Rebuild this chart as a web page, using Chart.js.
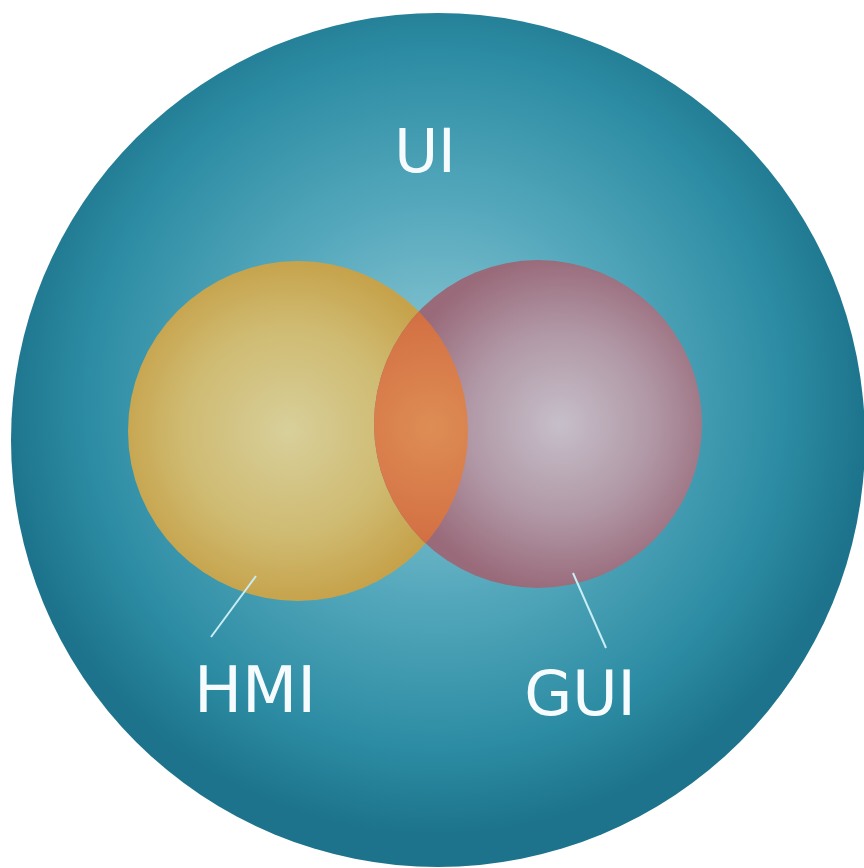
<!DOCTYPE html>
<html>
<head>
<meta charset="utf-8">
<script src="https://cdn.jsdelivr.net/npm/chart.js@4/dist/chart.umd.min.js"></script>
<style>
  html, body { margin: 0; padding: 0; background: #ffffff; }
  #wrap { width: 864px; height: 868px; }
</style>
</head>
<body>
<div id="wrap"><canvas id="c" width="864" height="868"></canvas></div>
<script>
// ---- data ----
const sets = ['UI', 'HMI', 'GUI'];
const centerX = [438, 298, 538];
const centerY = [440, 431, 424];
const radius = [427, 170, 164];
const labelX = [425, 255, 580];
const labelY = [172, 712, 715];
const hmiLeaderX = [256, 211];
const hmiLeaderY = [576, 637];
const guiLeaderX = [573, 606];
const guiLeaderY = [573, 648];

// ---- styles ----
const gradStops = [
  [[0, '#95ccd7'], [0.45, '#55a8bc'], [0.8, '#2c8ca3'], [1, '#1c738b']],
  [[0, '#d8cf9a'], [0.6, '#cfbb72'], [1, '#c6a24a']],
  [[0, '#c6bfca'], [0.55, '#b198a6'], [1, '#996a7a']]
];
const gradOffset = [[-3, -40], [-10, 0], [22, 0]];
const overlapStops = [[0, '#de8d55'], [0.6, '#d47345'], [1, '#c85c3a']];

function radial(ctx2d, cx, cy, r, stops) {
  const g = ctx2d.createRadialGradient(cx, cy, 0, cx, cy, r);
  stops.forEach(s => g.addColorStop(s[0], s[1]));
  return g;
}

function bubbleDataset(i, order) {
  return {
    type: 'bubble',
    label: sets[i],
    data: [{ x: centerX[i], y: centerY[i], r: radius[i] }],
    borderWidth: 0,
    hoverBorderWidth: 0,
    hoverRadius: 0,
    order: order,
    clip: false,
    backgroundColor: (c) => {
      const chart = c.chart;
      if (!chart.chartArea || !chart.scales.x) return gradStops[i][1][1];
      const px = chart.scales.x.getPixelForValue(centerX[i]);
      const py = chart.scales.y.getPixelForValue(centerY[i]);
      return radial(chart.ctx, px + gradOffset[i][0], py + gradOffset[i][1], radius[i] * 1.02, gradStops[i]);
    }
  };
}

function leaderDataset(xs, ys, name) {
  return {
    type: 'line',
    label: name,
    data: xs.map((x, k) => ({ x: x, y: ys[k] })),
    borderColor: '#c9eef5',
    borderWidth: 2,
    pointRadius: 0,
    fill: false,
    order: 0,
    clip: false
  };
}

const overlapPlugin = {
  id: 'overlap',
  afterDatasetDraw(chart, args) {
    if (args.index !== 2) return;
    const ctx = chart.ctx;
    const sx = chart.scales.x, sy = chart.scales.y;
    const hx = sx.getPixelForValue(centerX[1]), hy = sy.getPixelForValue(centerY[1]);
    const gx = sx.getPixelForValue(centerX[2]), gy = sy.getPixelForValue(centerY[2]);
    ctx.save();
    ctx.beginPath();
    ctx.arc(hx, hy, radius[1], 0, Math.PI * 2);
    ctx.clip();
    ctx.beginPath();
    ctx.arc(gx, gy, radius[2], 0, Math.PI * 2);
    const mx = (hx + radius[1] + gx - radius[2]) / 2;
    ctx.fillStyle = radial(ctx, mx + 10, (hy + gy) / 2, 170, overlapStops);
    ctx.fill();
    ctx.restore();
  }
};

const labelPlugin = {
  id: 'labels',
  afterDraw(chart) {
    const ctx = chart.ctx;
    const sx = chart.scales.x, sy = chart.scales.y;
    ctx.save();
    ctx.fillStyle = '#f6fcfd';
    ctx.textAlign = 'center';
    ctx.textBaseline = 'alphabetic';
    const sizes = [60, 64, 62];
    sets.forEach((s, i) => {
      ctx.font = sizes[i] + 'px "DejaVu Sans"';
      ctx.fillText(s, sx.getPixelForValue(labelX[i]), sy.getPixelForValue(labelY[i]));
    });
    ctx.restore();
  }
};

new Chart(document.getElementById('c'), {
  type: 'bubble',
  data: {
    datasets: [
      bubbleDataset(0, 3),
      bubbleDataset(1, 2),
      bubbleDataset(2, 1),
      leaderDataset(hmiLeaderX, hmiLeaderY, 'HMI leader'),
      leaderDataset(guiLeaderX, guiLeaderY, 'GUI leader')
    ]
  },
  options: {
    responsive: false,
    animation: false,
    events: [],
    layout: { padding: 0, autoPadding: false },
    plugins: { legend: { display: false }, tooltip: { enabled: false } },
    scales: {
      x: { type: 'linear', min: 0, max: 864, display: false },
      y: { type: 'linear', min: 0, max: 868, reverse: true, display: false }
    }
  },
  plugins: [overlapPlugin, labelPlugin]
});
</script>
</body>
</html>
